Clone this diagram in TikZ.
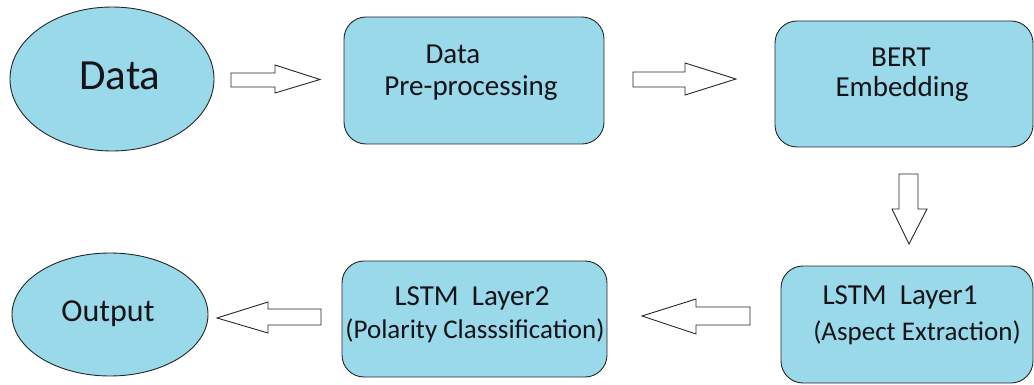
\documentclass[tikz,border=0pt]{standalone}
\usepackage{fontspec}
\setmainfont{Carlito}
\usetikzlibrary{shapes.geometric}
\definecolor{boxfill}{RGB}{153,217,234}
\definecolor{txt}{RGB}{20,20,25}
\tikzset{
  blk/.style={draw=black!85, line width=0.9pt, fill=boxfill, rounded corners=22pt, inner sep=0pt},
  ell/.style={draw=black!85, line width=0.9pt, fill=boxfill, ellipse, inner sep=0pt},
  lbl/.style={text=txt, inner sep=0pt, anchor=center, font=\fontsize{29}{35}\selectfont},
  barrow/.style={draw=black!85, line width=0.9pt, fill=white, line join=miter}
}
\begin{document}
\begin{tikzpicture}[x=1pt,y=-1pt]
\useasboundingbox (0,0) rectangle (1034,385);
% shapes
\node[ell, minimum width=204pt, minimum height=144pt] (data) at (112,79) {};
\node[blk, minimum width=260pt, minimum height=127pt] (pre) at (474,80.5) {};
\node[blk, minimum width=258pt, minimum height=126pt] (bert) at (904,84) {};
\node[blk, minimum width=252pt, minimum height=117pt] (l1) at (907,324.5) {};
\node[blk, minimum width=265pt, minimum height=116pt] (l2) at (474.5,319) {};
\node[ell, minimum width=196pt, minimum height=123pt] (out) at (110,314.5) {};
% texts
\node[lbl, font=\fontsize{43}{50}\selectfont] (tdata) at (120,76) {Data};
\node[lbl] (tpre1) at (453,54) {Data};
\node[lbl] (tpre2) at (471,88) {Pre-processing};
\node[lbl] (tbert1) at (901,57) {BERT};
\node[lbl] (tbert2) at (902,89) {Embedding};
\node[lbl] (tl1a) at (900,297) {LSTM~~Layer1};
\node[lbl, font=\fontsize{27}{35}\selectfont] (tl1b) at (917,333) {(Aspect Extraction)};
\node[lbl] (tl2a) at (472,298) {LSTM~~Layer2};
\node[lbl, font=\fontsize{27}{35}\selectfont] (tl2b) at (475,331) {(Polarity Classsification)};
\node[lbl, font=\fontsize{32}{38}\selectfont] (tout) at (108,314) {Output};
% block arrows
\draw[barrow] (231,73) -- (275,73) -- (275,65) -- (320,79.5) -- (275,93) -- (275,87) -- (231,87) -- cycle;
\draw[barrow] (633,72) -- (685,72) -- (685,63) -- (736,79) -- (685,95) -- (685,87) -- (633,87) -- cycle;
\draw[barrow] (899,174) -- (918,174) -- (918,209) -- (927,209) -- (909,244) -- (892,209) -- (899,209) -- cycle;
\draw[barrow] (750,307) -- (696,307) -- (696,299) -- (642,316) -- (696,334) -- (696,325) -- (750,325) -- cycle;
\draw[barrow] (321,309) -- (268,309) -- (268,302) -- (217,318) -- (268,333) -- (268,325) -- (321,325) -- cycle;
\end{tikzpicture}
\end{document}
